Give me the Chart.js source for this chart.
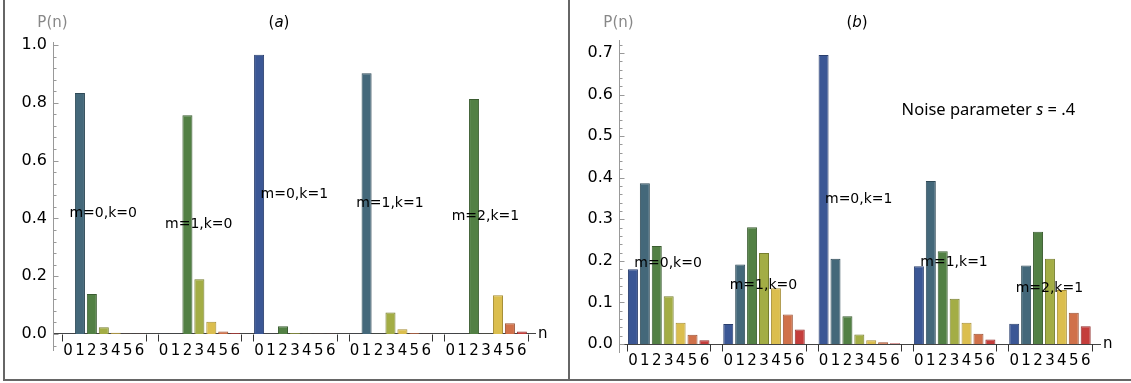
<!DOCTYPE html>
<html>
<head>
<meta charset="utf-8">
<script src="https://cdn.jsdelivr.net/npm/chart.js@4.4.1/dist/chart.umd.min.js"></script>
<style>
  html, body { margin: 0; padding: 0; background: #fff; }
  body { width: 1131px; height: 383px; overflow: hidden; position: relative; }
  .wrap { position: absolute; top: 0; height: 383px; }
  .line { position: absolute; background: #666; z-index: 5; }
</style>
</head>
<body>
<div class="wrap" style="left:0;width:569px"><canvas id="ca" width="569" height="383"></canvas></div>
<div class="wrap" style="left:570px;width:561px"><canvas id="cb" width="561" height="383"></canvas></div>
<div class="line" style="left:3px;top:0;width:2px;height:381px"></div>
<div class="line" style="left:568px;top:0;width:2px;height:381px"></div>
<div class="line" style="left:3px;top:379px;width:1128px;height:2px"></div>
<script>
// ---- data ----
const nLabels = ['0', '1', '2', '3', '4', '5', '6'];
const groupLabels = ['m=0,k=0', 'm=1,k=0', 'm=0,k=1', 'm=1,k=1', 'm=2,k=1'];

// panel (a): P(n) for n = 0..6, one array per group
const probA_m0k0 = [0.001, 0.834, 0.138, 0.023, 0.004, 0.001, 0.001];
const probA_m1k0 = [0.001, 0.001, 0.757, 0.189, 0.042, 0.009, 0.003];
const probA_m0k1 = [0.966, 0.001, 0.027, 0.003, 0.001, 0.001, 0.001];
const probA_m1k1 = [0.001, 0.902, 0.001, 0.074, 0.016, 0.003, 0.001];
const probA_m2k1 = [0.001, 0.001, 0.813, 0.001, 0.134, 0.037, 0.009];

// panel (b): noise parameter s = .4
const probB_m0k0 = [0.180, 0.387, 0.236, 0.115, 0.051, 0.022, 0.009];
const probB_m1k0 = [0.048, 0.191, 0.281, 0.219, 0.134, 0.071, 0.035];
const probB_m0k1 = [0.695, 0.205, 0.067, 0.023, 0.009, 0.004, 0.002];
const probB_m1k1 = [0.187, 0.392, 0.223, 0.109, 0.051, 0.025, 0.011];
const probB_m2k1 = [0.049, 0.189, 0.270, 0.205, 0.130, 0.075, 0.043];

const yTicksA = [0.0, 0.2, 0.4, 0.6, 0.8, 1.0];
const yTicksB = [0.0, 0.1, 0.2, 0.3, 0.4, 0.5, 0.6, 0.7];

// ---- styles ----
const fillColors   = ['#3b5795', '#44687a', '#528044', '#a3ad45', '#dbbe4e', '#d0714a', '#c43d3b'];
const borderColors = ['#2a3f6e', '#2f4a57', '#3a5c30', '#767e2f', '#a68e36', '#9a5234', '#902c2a'];
const SLOT = 8; // 7 bars + 1 gap per group

Chart.defaults.font.family = "'DejaVu Sans', sans-serif";
Chart.defaults.color = '#000';

function buildPoints(groups) {
  const pts = [];
  groups.forEach((arr, g) => arr.forEach((v, n) => pts.push({ x: g * SLOT + n + 0.5, y: v })));
  return pts;
}

const decor = {
  id: 'decor',
  afterDraw(chart, args, o) {
    const ctx = chart.ctx;
    const xs = chart.scales.x, ys = chart.scales.y;
    const ax = Math.round(ys.right) + 0.5;
    ctx.save();
    // inward y ticks
    ctx.strokeStyle = '#999';
    ctx.lineWidth = 1;
    ctx.beginPath();
    o.yTicks.forEach(v => {
      const py = Math.round(ys.getPixelForValue(v)) + 0.5;
      ctx.moveTo(ax, py); ctx.lineTo(ax + 5, py);
    });
    for (let k = Math.ceil(ys.min / o.minorStep); k * o.minorStep <= ys.max + 1e-9; k++) {
      const v = k * o.minorStep;
      if (o.yTicks.some(t => Math.abs(t - v) < 1e-6)) continue;
      const py = Math.round(ys.getPixelForValue(v)) + 0.5;
      ctx.moveTo(ax, py); ctx.lineTo(ax + 3, py);
    }
    ctx.stroke();
    // group edge ticks on x axis
    const y0 = Math.round(ys.getPixelForValue(0)) + 0.5;
    ctx.strokeStyle = '#333';
    ctx.beginPath();
    o.groups.forEach((arr, g) => {
      [g * SLOT, g * SLOT + arr.length].forEach(v => {
        const px = Math.round(xs.getPixelForValue(v)) + 0.5;
        ctx.moveTo(px, y0); ctx.lineTo(px, y0 + 7);
      });
    });
    ctx.stroke();
    // group labels
    ctx.fillStyle = '#000';
    ctx.font = "14px 'DejaVu Sans'";
    ctx.textAlign = 'center';
    ctx.textBaseline = 'middle';
    o.groups.forEach((arr, g) => {
      ctx.fillText(groupLabels[g], xs.getPixelForValue(g * SLOT + 3.45), ys.getPixelForValue(Math.max(...arr) / 2));
    });
    // axis labels
    ctx.font = "15px 'DejaVu Sans'";
    ctx.fillStyle = '#888';
    ctx.fillText('P(n)', ax - 1, 23);
    ctx.fillStyle = '#000';
    ctx.textAlign = 'left';
    ctx.fillText('n', xs.right + 3, y0);
    // title (x)
    const parts = [['(', ''], [o.letter, 'italic '], [')', '']];
    let w = 0;
    parts.forEach(p => { ctx.font = p[1] + "15px 'DejaVu Sans'"; w += ctx.measureText(p[0]).width; });
    let tx = o.titleX - w / 2;
    parts.forEach(p => { ctx.font = p[1] + "15px 'DejaVu Sans'"; ctx.fillText(p[0], tx, 23); tx += ctx.measureText(p[0]).width; });
    // note
    if (o.note) {
      let nx = xs.getPixelForValue(o.note.x);
      const ny = ys.getPixelForValue(o.note.y);
      o.note.parts.forEach(p => {
        ctx.font = p[1] + "16.5px 'Noto Sans'";
        ctx.fillText(p[0], nx, ny);
        nx += ctx.measureText(p[0]).width;
      });
    }
    ctx.restore();
  }
};

function makeChart(id, groups, yTicks, cfg) {
  const pts = buildPoints(groups);
  const centers = pts.map(p => p.x);
  return new Chart(document.getElementById(id), {
    type: 'bar',
    data: {
      datasets: [{
        data: pts,
        backgroundColor: c => fillColors[c.dataIndex % 7],
        borderColor: c => borderColors[c.dataIndex % 7],
        borderWidth: 1,
        barPercentage: 0.84,
        categoryPercentage: 1.0
      }]
    },
    options: {
      responsive: false,
      animation: false,
      events: [],
      layout: { padding: cfg.padding },
      plugins: {
        legend: { display: false },
        tooltip: { enabled: false },
        decor: { yTicks: yTicks, minorStep: cfg.minorStep, groups: groups, letter: cfg.letter, titleX: cfg.titleX, note: cfg.note }
      },
      scales: {
        x: {
          type: 'linear',
          offset: false,
          min: cfg.xMin, max: cfg.xMax,
          position: { y: 0 },
          afterBuildTicks: s => { s.ticks = centers.map(v => ({ value: v })); },
          ticks: {
            autoSkip: false, maxRotation: 0, minRotation: 0, padding: 8,
            font: { size: 15 }, color: '#000',
            callback: (v, i) => nLabels[i % nLabels.length]
          },
          grid: { display: false, drawTicks: false, offset: false },
          border: { display: true, color: '#444', width: 1 }
        },
        y: {
          type: 'linear',
          min: cfg.yMin, max: cfg.yMax,
          position: 'left',
          afterBuildTicks: s => { s.ticks = yTicks.map(v => ({ value: v })); },
          afterFit: s => { s.width = cfg.yWidth; },
          ticks: { padding: 6, font: { size: 16 }, color: '#000', callback: v => v.toFixed(1) },
          grid: { display: false, drawTicks: false },
          border: { display: true, color: '#999', width: 1 }
        }
      }
    },
    plugins: [decor]
  });
}

makeChart('ca', [probA_m0k0, probA_m1k0, probA_m0k1, probA_m1k1, probA_m2k1], yTicksA, {
  padding: { left: 0, top: 42, right: 34, bottom: 33 },
  yWidth: 53, xMin: -0.754, xMax: 39.6, yMin: -0.0554, yMax: 1.0104,
  minorStep: 0.04, letter: 'a', titleX: 279
});

makeChart('cb', [probB_m0k0, probB_m1k0, probB_m0k1, probB_m1k1, probB_m2k1], yTicksB, {
  padding: { left: 0, top: 40, right: 31, bottom: 31 },
  yWidth: 49, xMin: -0.67, xMax: 39.7, yMin: -0.0192, yMax: 0.7313,
  minorStep: 0.02, letter: 'b', titleX: 287,
  note: { x: 23.05, y: 0.563, parts: [['Noise parameter ', ''], ['s', 'italic '], [' = .4', '']] }
});
</script>
</body>
</html>
